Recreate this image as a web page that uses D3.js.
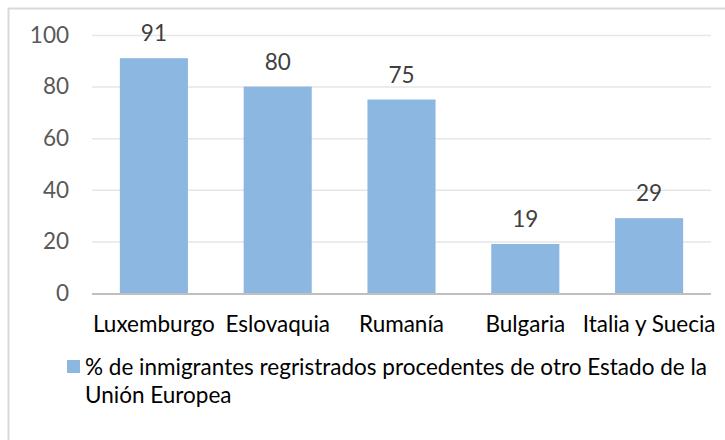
<!DOCTYPE html>
<html>
<head>
<meta charset="utf-8">
<script src="https://cdn.jsdelivr.net/npm/d3@7"></script>
<style>
  html, body { margin: 0; padding: 0; background: #fff; }
  svg { display: block; }
</style>
</head>
<body>
<div id="chart"></div>
<script>
// Chart values
const categories = ['Luxemburgo', 'Eslovaquia', 'Rumanía', 'Bulgaria', 'Italia y Suecia'];
const values = [91, 80, 75, 19, 29];
const yTicks = [0, 20, 40, 60, 80, 100];
const legendLines = [
  '% de inmigrantes regristrados procedentes de otro Estado de la',
  'Unión Europea'
];

const W = 725, H = 440;
const FONT = 'Lato, "Open Sans", sans-serif';
const FS = 22.5;
const BAR = '#8cb7e0';

const svg = d3.select('#chart')
  .append('svg')
  .attr('width', W)
  .attr('height', H);

// Chart frame (right/bottom edges run off the picture)
svg.append('rect')
  .attr('x', 8.5).attr('y', 8.5)
  .attr('width', W + 20).attr('height', H + 20)
  .attr('fill', '#fff')
  .attr('stroke', '#d9d9d9')
  .attr('stroke-width', 2);

const x = d3.scaleBand()
  .domain(categories)
  .range([92, 711])
  .paddingInner(0.45)
  .paddingOuter(0.225);

const y = d3.scaleLinear()
  .domain([0, 100])
  .range([293, 35]);

// Gridlines
svg.append('g')
  .selectAll('line')
  .data(yTicks.filter(d => d > 0))
  .join('line')
  .attr('x1', 92).attr('x2', 711)
  .attr('y1', d => y(d) + 0.5).attr('y2', d => y(d) + 0.5)
  .attr('stroke', '#e6e6e6')
  .attr('stroke-width', 1.5);

// Y axis labels
const yAxis = svg.append('g')
  .attr('transform', 'translate(92,0)')
  .call(d3.axisLeft(y).tickValues(yTicks).tickSize(0).tickPadding(23));
yAxis.select('.domain').remove();
yAxis.selectAll('text')
  .attr('fill', '#595959')
  .attr('font-family', FONT)
  .attr('font-size', FS);

// Bars
svg.append('g')
  .selectAll('rect')
  .data(values)
  .join('rect')
  .attr('x', (d, i) => x(categories[i]))
  .attr('y', d => y(d))
  .attr('width', x.bandwidth())
  .attr('height', d => y(0) - y(d))
  .attr('fill', BAR);

// Value labels
svg.append('g')
  .selectAll('text')
  .data(values)
  .join('text')
  .attr('x', (d, i) => x(categories[i]) + x.bandwidth() / 2)
  .attr('y', d => y(d) - 17)
  .attr('text-anchor', 'middle')
  .attr('fill', '#404040')
  .attr('font-family', FONT)
  .attr('font-size', FS)
  .text(d => d);

// X axis
const xAxis = svg.append('g')
  .attr('transform', 'translate(0,' + y(0) + ')')
  .call(d3.axisBottom(x).tickSize(0).tickPadding(0));
xAxis.select('.domain')
  .attr('stroke', '#bfbfbf')
  .attr('stroke-width', 2)
  .attr('d', 'M92,1H711');
xAxis.selectAll('text')
  .attr('dy', null)
  .attr('y', 39)
  .attr('fill', '#000')
  .attr('font-family', FONT)
  .attr('font-size', FS);

// Legend
const legend = svg.append('g');
legend.append('rect')
  .attr('x', 67).attr('y', 360)
  .attr('width', 13).attr('height', 13)
  .attr('fill', BAR);
legend.selectAll('text')
  .data(legendLines)
  .join('text')
  .attr('x', 85)
  .attr('y', (d, i) => 375 + i * 28)
  .attr('fill', '#000')
  .attr('font-family', FONT)
  .attr('font-size', FS)
  .text(d => d);
</script>
</body>
</html>
